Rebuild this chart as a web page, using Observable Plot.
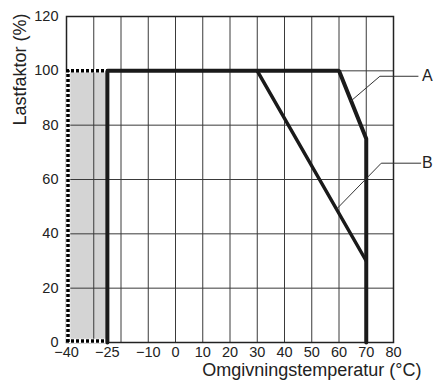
<!DOCTYPE html>
<html>
<head>
<meta charset="utf-8">
<script src="https://cdn.jsdelivr.net/npm/d3@7"></script>
<script src="https://cdn.jsdelivr.net/npm/@observablehq/plot@0.6"></script>
<style>
  html, body { margin: 0; padding: 0; background: #fff; }
</style>
</head>
<body>
<div id="chart"></div>
<script>
// Data
const xTicks = [-40, -25, -10, 0, 10, 20, 30, 40, 50, 60, 70, 80];
const xGrid = [-40, -30, -20, -10, 0, 10, 20, 30, 40, 50, 60, 70, 80];
const yTicks = [0, 20, 40, 60, 80, 100, 120];
const curveA_T = [-25, -25, 60, 70, 70];
const curveA_L = [0, 100, 100, 75, 0];
const curveB_T = [30, 70];
const curveB_L = [100, 30];
const shadeT = [-40, -25];
const shadeL = [0, 100];
const leaderA_T = [64.5, 75, 89];
const leaderA_L = [89, 98, 98];
const leaderB_T = [59, 75.5, 90];
const leaderB_L = [49, 66, 66];
const labels = ["A", "B"];
const labelT = [90.5, 90.5];
const labelL = [98, 66];
const yTitle = "Lastfaktor (%)";
const xTitle = "Omgivningstemperatur (°C)";

const A = curveA_T.map((t, i) => ({t, l: curveA_L[i]}));
const B = curveB_T.map((t, i) => ({t, l: curveB_L[i]}));
const LA = leaderA_T.map((t, i) => ({t, l: leaderA_L[i]}));
const LB = leaderB_T.map((t, i) => ({t, l: leaderB_L[i]}));
const lab = labels.map((s, i) => ({s, t: labelT[i], l: labelL[i]}));
const dotted = {stroke: "#000", strokeWidth: 3.5, strokeDasharray: "3,2", strokeLinecap: "butt"};

const chart = Plot.plot({
  width: 433,
  height: 383,
  marginLeft: 66,
  marginRight: 40,
  marginTop: 16,
  marginBottom: 41,
  style: {fontFamily: "'Liberation Sans', Arial, sans-serif", fontSize: "14.5px", color: "#222"},
  x: {domain: [-40, 80]},
  y: {domain: [0, 120]},
  marks: [
    Plot.rect([{x1: shadeT[0], x2: shadeT[1], y1: shadeL[0], y2: shadeL[1]}], {x1: "x1", x2: "x2", y1: "y1", y2: "y2", fill: "#d4d4d4"}),
    Plot.ruleX(xGrid, {stroke: "#3a3a3a", strokeWidth: 1}),
    Plot.ruleY(yTicks, {stroke: "#3a3a3a", strokeWidth: 1}),
    Plot.frame({stroke: "#222", strokeWidth: 1.5}),
    Plot.axisX(xTicks, {tickSize: 0, tickPadding: 4, label: null}),
    Plot.axisY(yTicks, {tickSize: 0, tickPadding: 8, label: null}),
    // dotted border of the shaded zone
    Plot.ruleX([shadeT[0]], {y1: shadeL[0], y2: shadeL[1], stroke: "#fff", strokeWidth: 4.5, dx: 1.5}),
    Plot.ruleY([shadeL[0]], {x1: shadeT[0], x2: shadeT[1], stroke: "#fff", strokeWidth: 4.5, dy: -1.5}),
    Plot.ruleY([shadeL[1]], {x1: shadeT[0], x2: shadeT[1], stroke: "#fff", strokeWidth: 3.5}),
    Plot.ruleX([shadeT[0]], {y1: shadeL[0], y2: shadeL[1], ...dotted, dx: 1.5}),
    Plot.ruleY([shadeL[0]], {x1: shadeT[0], x2: shadeT[1], ...dotted, dy: -1.5}),
    Plot.ruleY([shadeL[1]], {x1: shadeT[0], x2: shadeT[1], ...dotted}),
    Plot.line(B, {x: "t", y: "l", stroke: "#1a1a1a", strokeWidth: 3.5}),
    Plot.line(A, {x: "t", y: "l", stroke: "#1a1a1a", strokeWidth: 4, strokeLinejoin: "miter"}),
    Plot.line(LA, {x: "t", y: "l", stroke: "#333", strokeWidth: 1, clip: false}),
    Plot.line(LB, {x: "t", y: "l", stroke: "#333", strokeWidth: 1, clip: false}),
    Plot.text(lab, {x: "t", y: "l", text: "s", textAnchor: "start", fontSize: 16, fill: "#222", clip: false}),
    Plot.text([xTitle], {frameAnchor: "bottom-right", textAnchor: "end", dx: 28, dy: 33, fontSize: 18, fill: "#222"}),
    Plot.text([yTitle], {x: -57, y: 100.5, rotate: -90, fontSize: 18, fill: "#222", clip: false})
  ]
});
document.getElementById("chart").appendChild(chart);
</script>
</body>
</html>
